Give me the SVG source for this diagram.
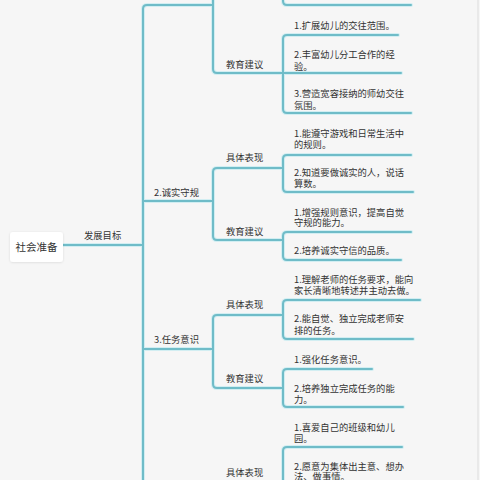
<svg xmlns="http://www.w3.org/2000/svg" xmlns:xlink="http://www.w3.org/1999/xlink" width="480" height="480" viewBox="0 0 480 480">
<style>
  text { font-family: "Noto Sans CJK SC", "Noto Sans", sans-serif; font-size: 9.3px; fill: #333; }
  .root { font-size: 10.5px; }
  .glow { fill: none; stroke: #d2eef2; stroke-width: 4; stroke-linecap: round; }
  .line { fill: none; stroke: #6fbcc8; stroke-width: 2; stroke-linecap: round; }
</style>
<defs>
  <path id="conn" d="M63,245 H143
    M143,490 V9 Q143,5 147,5 H213
    M143,201 H213
    M143,349 H213
    M213,-20 V69 Q213,73 217,73 H401
    M283,-20 V1 Q283,5 287,5 H411
    M398,35 H287 Q283,35 283,39 V109 Q283,113 287,113 H411
    M283,168 H217 Q213,168 213,172 V236 Q213,240 217,240 H283
    M411,155 H287 Q283,155 283,159 V188 Q283,192 287,192 H413
    M411,232 H287 Q283,232 283,236 V256 Q283,260 287,260 H401
    M283,315 H217 Q213,315 213,319 V384 Q213,388 217,388 H283
    M420,300 H287 Q283,300 283,304 V335 Q283,339 287,339 H413
    M372,369 H287 Q283,369 283,373 V403 Q283,407 287,407 H403
    M402,447 H287 Q283,447 283,451 V490"/>
  <filter id="sh" x="-20%" y="-20%" width="140%" height="140%">
    <feDropShadow dx="0" dy="0.5" stdDeviation="1" flood-color="#000" flood-opacity="0.12"/>
  </filter>
</defs>
<rect width="480" height="480" fill="#f6f6f6"/>
<line x1="478" y1="0" x2="478" y2="480" stroke="#dcdcdc" stroke-width="1"/>

<g id="connectors">
  <use xlink:href="#conn" class="glow"/>
  <use xlink:href="#conn" class="line"/>
</g>

<g id="root">
  <rect x="10" y="232" width="53" height="30" rx="3" fill="#ffffff" filter="url(#sh)"/>
  <text class="root" x="36.5" y="251" text-anchor="middle">社会准备</text>
</g>
<g id="goal"><text x="84" y="238.5">发展目标</text></g>

<g id="b1-edu"><text x="226" y="67.5">教育建议</text></g>
<g id="b1-edu-1"><text x="294" y="28.5">1.扩展幼儿的交往范围。</text></g>
<g id="b1-edu-2"><text x="294" y="57.5">2.丰富幼儿分工合作的经</text><text x="294" y="69.5">验。</text></g>
<g id="b1-edu-3"><text x="294" y="96.5">3.营造宽容接纳的师幼交往</text><text x="294" y="108.5">氛围。</text></g>

<g id="b2"><text x="154" y="195.5">2.诚实守规</text></g>
<g id="b2-perf"><text x="226" y="160.5">具体表现</text></g>
<g id="b2-perf-1"><text x="294" y="136.5">1.能遵守游戏和日常生活中</text><text x="294" y="147.5">的规则。</text></g>
<g id="b2-perf-2"><text x="294" y="175.5">2.知道要做诚实的人，说话</text><text x="294" y="186.5">算数。</text></g>
<g id="b2-edu"><text x="226" y="234.5">教育建议</text></g>
<g id="b2-edu-1"><text x="294" y="215.5">1.增强规则意识，提高自觉</text><text x="294" y="226">守规的能力。</text></g>
<g id="b2-edu-2"><text x="294" y="253.5">2.培养诚实守信的品质。</text></g>

<g id="b3"><text x="154" y="342.5">3.任务意识</text></g>
<g id="b3-perf"><text x="226" y="307.5">具体表现</text></g>
<g id="b3-perf-1"><text x="294" y="282.5">1.理解老师的任务要求，能向</text><text x="294" y="293.5">家长清晰地转述并主动去做。</text></g>
<g id="b3-perf-2"><text x="294" y="321.5">2.能自觉、独立完成老师安</text><text x="294" y="333.5">排的任务。</text></g>
<g id="b3-edu"><text x="226" y="381.5">教育建议</text></g>
<g id="b3-edu-1"><text x="294" y="362.5">1.强化任务意识。</text></g>
<g id="b3-edu-2"><text x="294" y="391.5">2.培养独立完成任务的能</text><text x="294" y="402.5">力。</text></g>

<g id="b4-perf"><text x="226" y="475.5">具体表现</text></g>
<g id="b4-perf-1"><text x="294" y="430.5">1.喜爱自己的班级和幼儿</text><text x="294" y="441.5">园。</text></g>
<g id="b4-perf-2"><text x="294" y="469.5">2.愿意为集体出主意、想办</text><text x="294" y="480">法、做事情。</text></g>
</svg>
